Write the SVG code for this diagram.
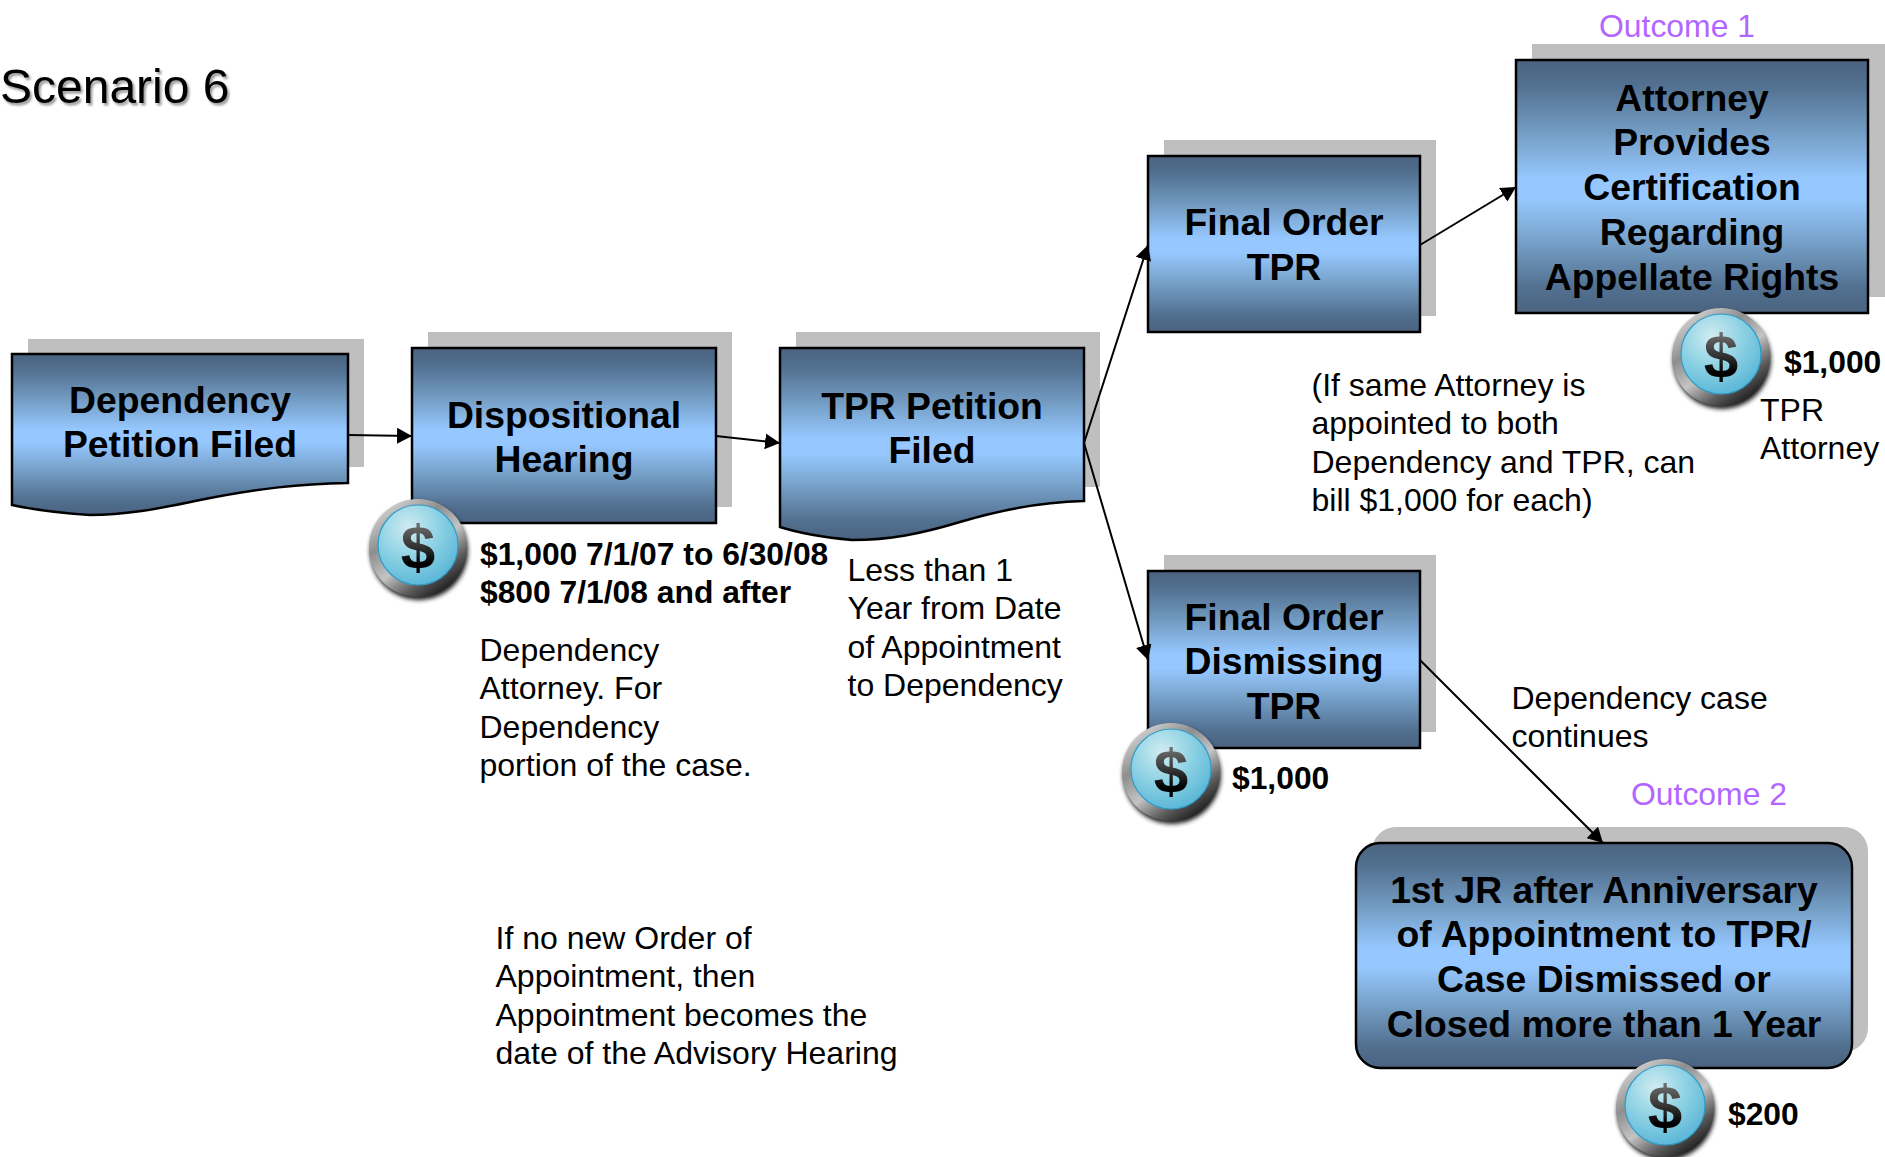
<svg xmlns="http://www.w3.org/2000/svg" width="1885" height="1157" viewBox="0 0 1885 1157">
<style>
text{font-family:"Liberation Sans",Arial,sans-serif;fill:#000}
.n{font-size:37.3px;font-weight:700;text-anchor:middle}
.b{font-size:32px}
.d{font-size:31.8px;font-weight:700}
.o{font-size:31.9px;fill:#b266ff}
.s{fill:#bfbfbf}
.f{fill:url(#g);stroke:#000;stroke-width:2.5}
.c{fill:none;stroke:#000;stroke-width:2;marker-end:url(#a)}
.m{font-size:62px;font-weight:700;text-anchor:middle;fill:url(#dg)}
</style>
<defs>
<linearGradient id="g" x1="0" y1="0" x2="0" y2="1">
<stop offset="0" stop-color="#4a6380"/><stop offset=".1" stop-color="#527090"/><stop offset=".3" stop-color="#76a0c8"/><stop offset=".47" stop-color="#96c8ff"/><stop offset=".55" stop-color="#96c8ff"/><stop offset=".72" stop-color="#76a0c8"/><stop offset=".9" stop-color="#527090"/><stop offset="1" stop-color="#4a6380"/>
</linearGradient>
<marker id="a" markerUnits="userSpaceOnUse" markerWidth="16" markerHeight="16" refX="15" refY="8" orient="auto"><path d="M0 0L15 8L0 16z" fill="#000"/></marker>
<radialGradient id="r" cx=".38" cy=".28" r=".85"><stop offset="0" stop-color="#d0ecf0"/><stop offset=".45" stop-color="#8ed2e4"/><stop offset=".85" stop-color="#5eb8d8"/><stop offset="1" stop-color="#a4dcea"/></radialGradient>
<linearGradient id="rim" x1=".15" y1=".05" x2=".8" y2=".98"><stop offset="0" stop-color="#d8d8d8"/><stop offset=".3" stop-color="#8e8e8e"/><stop offset=".55" stop-color="#c4c4c4"/><stop offset=".78" stop-color="#5a5a5a"/><stop offset="1" stop-color="#111"/></linearGradient>
<linearGradient id="dg" x1="0" y1="0" x2="0" y2="1"><stop offset="0" stop-color="#8f8f8f"/><stop offset=".5" stop-color="#333"/><stop offset=".75" stop-color="#000"/></linearGradient>
<filter id="bl" x="-20%" y="-20%" width="140%" height="140%"><feGaussianBlur stdDeviation="2"/></filter>
<filter id="ts" x="-5%" y="-10%" width="110%" height="130%"><feDropShadow dx="2" dy="2.5" stdDeviation="1" flood-color="#000" flood-opacity=".4"/></filter>
<g id="coin">
<circle r="49" cx="1" cy="3" fill="#222" filter="url(#bl)"/>
<circle r="49" fill="url(#rim)"/>
<circle r="40" cy="-3" fill="url(#r)" stroke="#2f9cc8" stroke-width="1.2"/>
</g>
</defs>
<rect width="1885" height="1157" fill="#fff"/>
<text id="title" x="0" y="103" font-size="48" filter="url(#ts)">Scenario 6</text>
<g id="node-dependency">
<rect class="s" x="28" y="339" width="336" height="128"/>
<path class="f" d="M12 354H348V483C300 484 260 488 200 500C160 508 130 515 90 515C60 513 35 510 12 505Z"/>
<text class="n"><tspan x="180" y="413">Dependency</tspan><tspan x="180" y="457">Petition Filed</tspan></text>
</g>
<g id="node-dispositional">
<rect class="s" x="428" y="332" width="304" height="175"/>
<rect class="f" x="412" y="348" width="304" height="175"/>
<text class="n"><tspan x="564" y="427.5">Dispositional</tspan><tspan x="564" y="472">Hearing</tspan></text>
<use href="#coin" x="418" y="548"/>
<text class="m" x="418" y="568">$</text>
</g>
<g id="node-tpr-petition">
<rect class="s" x="796" y="332" width="304" height="155"/>
<path class="f" d="M780 348H1084V501C1040 502 1000 510 960 522C920 534 890 540 852 540C830 538 805 535 780 527Z"/>
<text class="n"><tspan x="932" y="418.500">TPR Petition</tspan><tspan x="932" y="463">Filed</tspan></text>
</g>
<g id="node-final-tpr">
<rect class="s" x="1164" y="140" width="272" height="176"/>
<rect class="f" x="1148" y="156" width="272" height="176"/>
<text class="n"><tspan x="1284" y="235">Final Order</tspan><tspan x="1284" y="279.500">TPR</tspan></text>
</g>
<g id="node-attorney">
<rect class="s" x="1532" y="44" width="353" height="253"/>
<rect class="f" x="1516" y="60" width="352" height="253"/>
<text class="n"><tspan x="1692" y="111">Attorney</tspan><tspan x="1692" y="155">Provides</tspan><tspan x="1692" y="200">Certification</tspan><tspan x="1692" y="245">Regarding</tspan><tspan x="1692" y="289.500">Appellate Rights</tspan></text>
<use href="#coin" x="1721" y="357"/>
<text class="m" x="1721" y="377">$</text>
</g>
<g id="node-final-dismiss">
<rect class="s" x="1164" y="555" width="272" height="177"/>
<rect class="f" x="1148" y="571" width="272" height="177"/>
<text class="n"><tspan x="1284" y="629.500">Final Order</tspan><tspan x="1284" y="674">Dismissing</tspan><tspan x="1284" y="718.500">TPR</tspan></text>
<use href="#coin" x="1171" y="772"/>
<text class="m" x="1171" y="792">$</text>
</g>
<g id="node-jr">
<rect class="s" x="1372" y="827" width="496" height="225" rx="24"/>
<rect class="f" x="1356" y="843" width="496" height="225" rx="24"/>
<text class="n"><tspan x="1604" y="903">1st JR after Anniversary</tspan><tspan x="1604" y="947">of Appointment to TPR/</tspan><tspan x="1604" y="992">Case Dismissed or</tspan><tspan x="1604" y="1037">Closed more than 1 Year</tspan></text>
<use href="#coin" x="1665" y="1108"/>
<text class="m" x="1665" y="1128">$</text>
</g>
<g id="connectors">
<path class="c" d="M348 435L412 436"/>
<path class="c" d="M716 436L780 443"/>
<path class="c" d="M1084 443L1148 245"/>
<path class="c" d="M1084 443L1148 660"/>
<path class="c" d="M1420 245L1516 187"/>
<path class="c" d="M1420 660L1603 843"/>
</g>
<g id="labels">
<text class="o" x="1599" y="37">Outcome 1</text>
<text class="o" x="1631" y="805">Outcome 2</text>
<text class="d"><tspan x="480" y="565">$1,000 7/1/07 to 6/30/08</tspan><tspan x="480" y="603">$800 7/1/08 and after</tspan></text>
<text class="b"><tspan x="479.500" y="661">Dependency</tspan><tspan x="479.500" y="699">Attorney. For</tspan><tspan x="479.500" y="738">Dependency</tspan><tspan x="479.500" y="776">portion of the case.</tspan></text>
<text class="b"><tspan x="847.500" y="581">Less than 1</tspan><tspan x="847.500" y="619">Year from Date</tspan><tspan x="847.500" y="658">of Appointment</tspan><tspan x="847.500" y="696">to Dependency</tspan></text>
<text class="b"><tspan x="1311.500" y="396">(If same Attorney is</tspan><tspan x="1311.500" y="434">appointed to both</tspan><tspan x="1311.500" y="473">Dependency and TPR, can</tspan><tspan x="1311.500" y="511">bill $1,000 for each)</tspan></text>
<text class="d" x="1784" y="373">$1,000</text>
<text class="b"><tspan x="1760" y="421">TPR</tspan><tspan x="1760" y="459">Attorney</tspan></text>
<text class="d" x="1232" y="789">$1,000</text>
<text class="b"><tspan x="1511.500" y="709">Dependency case</tspan><tspan x="1511.500" y="747">continues</tspan></text>
<text class="d" x="1728" y="1125">$200</text>
<text class="b"><tspan x="495.500" y="949">If no new Order of</tspan><tspan x="495.500" y="987">Appointment, then</tspan><tspan x="495.500" y="1026">Appointment becomes the</tspan><tspan x="495.500" y="1064">date of the Advisory Hearing</tspan></text>
</g>
</svg>
